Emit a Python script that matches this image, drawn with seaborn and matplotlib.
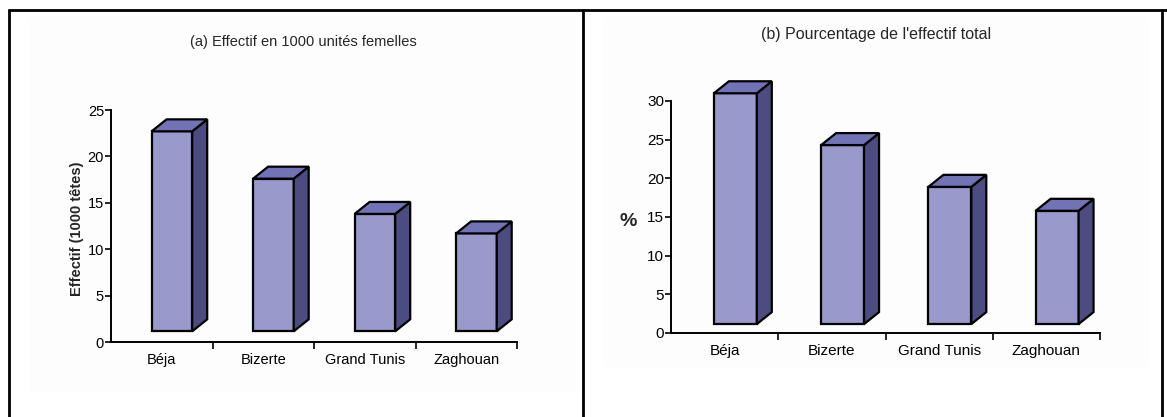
import matplotlib
matplotlib.use("Agg")
import matplotlib.pyplot as plt
from matplotlib.patches import Polygon, Rectangle
from matplotlib.lines import Line2D
import pandas as pd
import seaborn as sns

# Données par gouvernorat
regions = ["Béja", "Bizerte", "Grand Tunis", "Zaghouan"]
effectif = [22.7, 17.6, 13.8, 11.7]        # milliers d'unités femelles
pourcentage = [31.0, 24.3, 18.9, 15.8]     # % de l'effectif total

FRONT = "#9999CC"
TOP = "#7272B6"
SIDE = "#4C4C80"
EDGE_LW = 1.6

sns.set_theme(style="white")
plt.rcParams["font.family"] = ["Liberation Sans", "DejaVu Sans"]

W, H = 1167, 417
fig = plt.figure(figsize=(W / 100, H / 100), dpi=100)
fig.patch.set_facecolor("white")


def px_box(x0, y_top, x1, y_bot):
    return [x0 / W, 1 - y_bot / H, (x1 - x0) / W, (y_bot - y_top) / H]


# faint chart-area backgrounds
for (x0, y0, x1, y1) in [(29, 17, 579, 392), (603, 17, 1149, 367)]:
    fig.patches.append(Rectangle((x0 / W, 1 - y1 / H), (x1 - x0) / W, (y1 - y0) / H,
                                 transform=fig.transFigure, fc="#FDFDFD", ec="none", zorder=-5))

# outer frame and divider
for xs, ys in [([9, W], [10, 10]), ([9, 9], [10, H]), ([583, 583], [10, H]), ([1162, 1162], [10, H])]:
    fig.add_artist(Line2D([x / W for x in xs], [1 - y / H for y in ys],
                          transform=fig.transFigure, color="black", lw=2))

ax_a = fig.add_axes(px_box(111, 110, 517, 342))
ax_b = fig.add_axes(px_box(671, 101, 1100, 333))


def draw_columns(ax, values, ymax, fs, depth_px=(15, 12), floor=1.15, shift=0.1):
    df = pd.DataFrame({"region": regions, "value": values})
    sns.barplot(data=df, x="region", y="value", color=FRONT, saturation=1, width=0.4,
                edgecolor="black", linewidth=EDGE_LW, ax=ax)
    ax.set_xlim(-0.5, len(regions) - 0.5)
    ax.set_ylim(0, ymax)
    ax.set_facecolor("none")

    pos = ax.get_position()
    dx = depth_px[0] * len(regions) / (pos.width * W)
    dy = depth_px[1] * ymax / (pos.height * H)

    bars = list(ax.patches)
    for p in bars:
        x0 = p.get_x() + shift
        w = p.get_width()
        top = p.get_height()
        p.set_x(x0)
        p.set_y(floor)
        p.set_height(top - floor)
        p.set_clip_on(False)
        p.set_joinstyle("miter")
        side = Polygon([(x0 + w, floor), (x0 + w + dx, floor + dy),
                        (x0 + w + dx, top + dy), (x0 + w, top)],
                       closed=True, fc=SIDE, ec="black", lw=EDGE_LW,
                       clip_on=False, joinstyle="miter", zorder=p.get_zorder())
        lid = Polygon([(x0, top), (x0 + w, top), (x0 + w + dx, top + dy), (x0 + dx, top + dy)],
                      closed=True, fc=TOP, ec="black", lw=EDGE_LW,
                      clip_on=False, joinstyle="miter", zorder=p.get_zorder())
        ax.add_patch(side)
        ax.add_patch(lid)

    sns.despine(ax=ax)
    for s in ("left", "bottom"):
        ax.spines[s].set_color("black")
        ax.spines[s].set_linewidth(1.4)

    ax.set_yticks(range(0, ymax + 1, 5))
    ax.tick_params(axis="y", left=True, direction="out", length=4, width=1.2,
                   pad=1, labelsize=fs, labelcolor="black", color="black")
    ax.set_xticks([i + 0.5 for i in range(len(regions))], minor=True)
    ax.tick_params(axis="x", which="minor", bottom=True, direction="out",
                   length=5, width=1.2, color="black")
    ax.tick_params(axis="x", which="major", length=0, pad=8, labelsize=fs,
                   labelcolor="black")
    ax.set_xlabel("")


draw_columns(ax_a, effectif, 25, 10.5)
ax_a.set_ylabel("Effectif (1000 têtes)", fontsize=10.5, fontweight="bold", va="center")
ax_a.yaxis.set_label_coords(-0.084, 0.49)

draw_columns(ax_b, pourcentage, 30, 11)
ax_b.set_ylabel("%", fontsize=14, fontweight="bold", rotation=0, va="center", ha="center")
ax_b.yaxis.set_label_coords(-0.10, 0.48)

fig.text(303 / W, 1 - 42 / H, "(a) Effectif en 1000 unités femelles",
         ha="center", va="center", fontsize=10.5)
fig.text(876 / W, 1 - 35 / H, "(b) Pourcentage de l'effectif total",
         ha="center", va="center", fontsize=11.5)

fig.savefig("out.png", dpi=100)
